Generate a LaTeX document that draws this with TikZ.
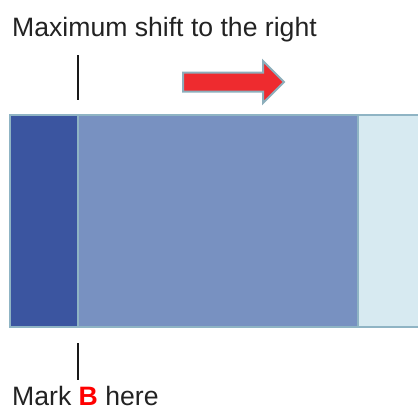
\documentclass[tikz,border=0pt]{standalone}
\usepackage{fontspec}
\setmainfont{Liberation Sans}
\usetikzlibrary{positioning}
\definecolor{darkBar}{HTML}{3B55A0}
\definecolor{midBar}{HTML}{7891C1}
\definecolor{lightBar}{HTML}{D7EAF1}
\definecolor{barLine}{HTML}{8FB4C4}
\definecolor{arrowRed}{HTML}{EE2B2F}
\definecolor{arrowLine}{HTML}{8CAEBB}
\definecolor{textGray}{HTML}{222222}

\begin{document}
\begin{tikzpicture}[
        x=1pt, y=-1pt,
        label/.style={anchor=base west, inner sep=0pt, text=textGray, font=\fontsize{26.6}{30}\selectfont},
        bar/.style={draw=barLine, line width=2pt},
        tick/.style={draw=black!90, line width=2pt}
      ]
        \useasboundingbox (0,0) rectangle (418,410);
        \clip (0,0) rectangle (418,410);
        % bars
        \filldraw[bar, fill=lightBar] (358,115) rectangle (430,327);
        \filldraw[bar, fill=midBar] (78,115) rectangle (358,327);
        \filldraw[bar, fill=darkBar] (10,115) rectangle (78,327);
        % texts
        \node[label] (top) at (12,36) {Maximum shift to the right};
        \node[label] (bottom) at (12,405) {Mark \textbf{\textcolor{red}{B}} here};
        % ticks
        \coordinate (t1) at (78,55);
        \coordinate (t2) at (78,100);
        \coordinate (b1) at (78,343);
        \coordinate (b2) at (78,380);
        \draw[tick] (t1) -- (t2);
        \draw[tick] (b1) -- (b2);
        % arrow
        \filldraw[draw=arrowLine, fill=arrowRed, line width=2pt, line join=miter]
          (183,72.5) -- (263,72.5) -- (263,61) -- (284,82) -- (263,103) -- (263,91.5) -- (183,91.5) -- cycle;
      \end{tikzpicture}
\end{document}
